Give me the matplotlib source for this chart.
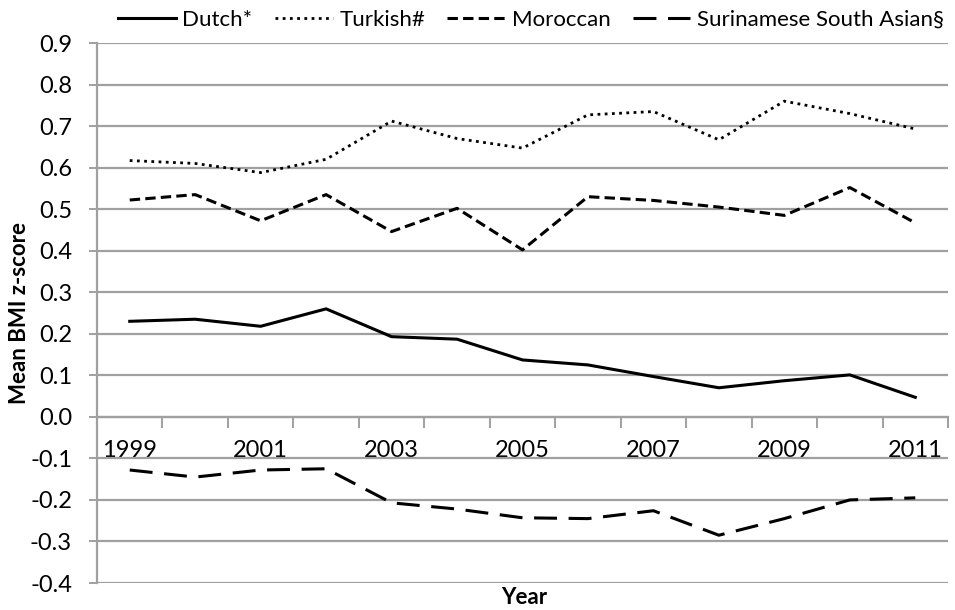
import matplotlib
matplotlib.use("Agg")
import matplotlib.pyplot as plt
import numpy as np

years = [1999, 2000, 2001, 2002, 2003, 2004, 2005, 2006, 2007, 2008, 2009, 2010, 2011]
dutch = [0.230, 0.235, 0.218, 0.260, 0.193, 0.187, 0.137, 0.125, 0.097, 0.070, 0.087, 0.101, 0.047]
turkish = [0.617, 0.610, 0.588, 0.620, 0.712, 0.670, 0.647, 0.727, 0.735, 0.667, 0.760, 0.730, 0.693]
moroccan = [0.522, 0.535, 0.472, 0.535, 0.446, 0.502, 0.402, 0.530, 0.521, 0.505, 0.485, 0.552, 0.467]
surinamese = [-0.128, -0.145, -0.128, -0.125, -0.207, -0.222, -0.243, -0.245, -0.226, -0.285, -0.245, -0.200, -0.195]
labels = ["Dutch*", "Turkish#", "Moroccan", "Surinamese South Asian§"]
yticks = [-0.4, -0.3, -0.2, -0.1, 0.0, 0.1, 0.2, 0.3, 0.4, 0.5, 0.6, 0.7, 0.8, 0.9]

plt.rcParams['font.family'] = ['Lato', 'DejaVu Sans']
grid_col = '#a0a0a0'

fig = plt.figure(figsize=(9.55, 6.1), dpi=100)
# plot area: x 97..948 px, y 43..583 px
ax = fig.add_axes([97 / 955, 1 - 583 / 610, (948 - 97) / 955, (583 - 43) / 610])

ax.plot(years, dutch, color='black', lw=2.2, ls='-', label=labels[0])
ax.plot(years, turkish, color='black', lw=2.0, ls=(0, (1, 1.6)), label=labels[1])
ax.plot(years, moroccan, color='black', lw=2.2, ls=(0, (3.4, 1.7)), label=labels[2])
ax.plot(years, surinamese, color='black', lw=2.2, ls=(0, (7.5, 3.8)), label=labels[3])

ax.set_xlim(1998.5, 2011.5)
ax.set_ylim(-0.4, 0.9)
ax.set_yticks(yticks)
ax.set_yticklabels(["%.1f" % v for v in yticks], fontsize=17)
ax.yaxis.grid(True, color=grid_col, lw=1.6)
ax.set_axisbelow(True)
ax.tick_params(axis='y', length=6, color=grid_col, width=1.4, pad=12)

for s in ['top', 'right']:
    ax.spines[s].set_visible(False)
ax.spines['left'].set_color(grid_col)
ax.spines['left'].set_linewidth(1.6)
ax.spines['bottom'].set_position(('data', 0))
ax.spines['bottom'].set_color(grid_col)
ax.spines['bottom'].set_linewidth(1.6)

# category axis: labels on odd years, tick marks between categories
ax.set_xticks(years[::2])
ax.set_xticklabels([str(y) for y in years[::2]], fontsize=17)
ax.tick_params(axis='x', which='major', length=0, pad=17)
ax.set_xticks(np.arange(1998.5, 2012, 1.0), minor=True)
ax.tick_params(axis='x', which='minor', length=8, color=grid_col, width=1.4)

fig.text(20 / 955, 1 - 313 / 610, "Mean BMI z-score", rotation=90, ha='center', va='center',
         fontsize=16, fontweight='bold')
fig.text(524 / 955, 1 - 587 / 610, "Year", ha='center', va='top', fontsize=16, fontweight='bold')

fig.legend(loc='center', bbox_to_anchor=(531 / 955, 1 - 20 / 610), ncol=4, frameon=False,
           fontsize=16, handlelength=2.6, handletextpad=0.3, columnspacing=1.0,
           borderpad=0, borderaxespad=0)

fig.savefig("out.png", dpi=100)
